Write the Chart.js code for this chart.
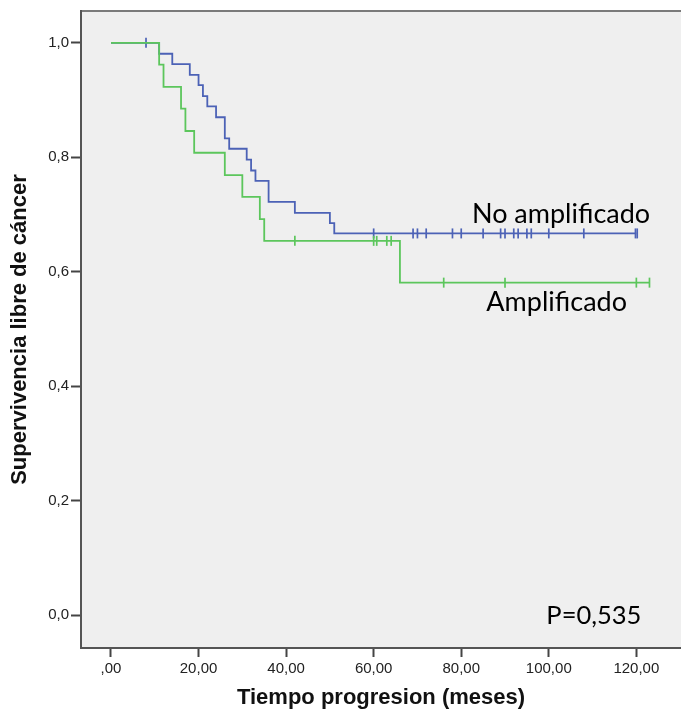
<!DOCTYPE html>
<html>
<head>
<meta charset="utf-8">
<script src="https://cdn.jsdelivr.net/npm/chart.js@4"></script>
<style>
  html, body { margin: 0; padding: 0; background: #fff; }
  #wrap { width: 681px; height: 717px; }
</style>
</head>
<body>
<div id="wrap"><canvas id="chart" width="681" height="717"></canvas></div>
<script>
// Kaplan-Meier steps (time in months, survival)
const blueTimes = [0, 11, 14, 18, 20, 21, 22, 24, 26, 27, 31, 32, 33, 36, 42, 50, 51, 120]
const blueSurv = [1, 0.981, 0.963, 0.944, 0.926, 0.907, 0.889, 0.870, 0.833, 0.815, 0.796, 0.777, 0.759, 0.722, 0.703, 0.685, 0.667, 0.667]
const blueCensored = [8, 60, 69, 70, 72, 78, 80, 85, 89, 90, 92, 93, 95, 96, 100, 108, 119.8, 120.2]

const greenTimes = [0, 11, 12, 16, 17, 19, 26, 30, 34, 35, 66, 123]
const greenSurv = [1, 0.962, 0.923, 0.885, 0.846, 0.808, 0.769, 0.731, 0.692, 0.654, 0.581, 0.581]
const greenCensored = [42, 60, 60.7, 63, 64, 76, 90, 120, 123]

const xTicks = [0, 20, 40, 60, 80, 100, 120]
const xTickLabels = [",00", "20,00", "40,00", "60,00", "80,00", "100,00", "120,00"]
const yTicks = [0, 0.2, 0.4, 0.6, 0.8, 1.0]
const yTickLabels = ["0,0", "0,2", "0,4", "0,6", "0,8", "1,0"]

const notes = [
  { text: "No amplificado", x: 102.8, y: 0.685, size: 27 },
  { text: "Amplificado", x: 101.8, y: 0.531, size: 27 },
  { text: "P=0,535", x: 110.3, y: -0.016, size: 25.5 },
]

const blue = "#4c62b6"
const green = "#5cc65c"

function steps(times, surv) {
  return times.map((t, i) => ({ x: t, y: surv[i] }))
}

// value of the step curve at time t (for placing censor ticks on the line)
function survAt(times, surv, t) {
  let v = surv[0]
  times.forEach((tt, i) => {
    if (tt <= t) v = surv[i]
  })
  return v
}

function censorPoints(cens, times, surv) {
  return cens.map((t) => ({ x: t, y: survAt(times, surv, t) }))
}

const plotBg = {
  id: "plotBg",
  beforeDraw(chart) {
    const { ctx, chartArea: a } = chart
    ctx.save()
    ctx.fillStyle = "#efefef"
    ctx.fillRect(a.left, a.top, a.right - a.left, a.bottom - a.top)
    ctx.strokeStyle = "#7a7a7a"
    ctx.lineWidth = 2
    ctx.beginPath()
    ctx.moveTo(a.left, a.top)
    ctx.lineTo(a.right, a.top)
    ctx.stroke()
    ctx.restore()
  },
}

const noteText = {
  id: "noteText",
  afterDatasetsDraw(chart) {
    const { ctx, scales } = chart
    ctx.save()
    ctx.fillStyle = "#000"
    ctx.textAlign = "center"
    ctx.textBaseline = "alphabetic"
    notes.forEach((n) => {
      ctx.font = n.size + "px Lato"
      ctx.fillText(n.text, scales.x.getPixelForValue(n.x), scales.y.getPixelForValue(n.y))
    })
    ctx.restore()
  },
}

const censorStyle = {
  type: "scatter",
  showLine: false,
  pointStyle: "line",
  rotation: 90,
  pointRadius: 5,
  pointHoverRadius: 5,
  pointBorderWidth: 1.7,
}

const config = {
  type: "line",
  data: {
    datasets: [
      Object.assign({}, censorStyle, {
        label: "Amplificado censurado",
        data: censorPoints(greenCensored, greenTimes, greenSurv),
        borderColor: green,
        backgroundColor: green,
      }),
      {
        label: "Amplificado",
        data: steps(greenTimes, greenSurv),
        stepped: "before",
        borderColor: green,
        borderWidth: 1.8,
        pointRadius: 0,
        fill: false,
      },
      Object.assign({}, censorStyle, {
        label: "No amplificado censurado",
        data: censorPoints(blueCensored, blueTimes, blueSurv),
        borderColor: blue,
        backgroundColor: blue,
      }),
      {
        label: "No amplificado",
        data: steps(blueTimes, blueSurv),
        stepped: "before",
        borderColor: blue,
        borderWidth: 1.8,
        pointRadius: 0,
        fill: false,
      },
    ],
  },
  options: {
    responsive: false,
    animation: false,
    layout: { autoPadding: false, padding: { top: 8, right: 0, left: 0, bottom: 0 } },
    plugins: {
      legend: { display: false },
      tooltip: { enabled: false },
    },
    scales: {
      x: {
        type: "linear",
        min: -6.85,
        max: 130.2,
        afterBuildTicks: (s) => {
          s.ticks = xTicks.map((v) => ({ value: v }))
        },
        afterFit: (s) => {
          s.height = 69
        },
        grid: { drawOnChartArea: false, drawTicks: true, tickLength: 9, tickColor: "#444", tickWidth: 2 },
        border: { display: true, color: "#555", width: 2 },
        ticks: {
          padding: 3,
          color: "#222",
          font: { family: "Liberation Sans", size: 15 },
          maxRotation: 0,
          callback: (v, i) => xTickLabels[i],
        },
        title: {
          display: true,
          text: "Tiempo progresion (meses)",
          color: "#111",
          font: { family: "Liberation Sans", size: 22, weight: "bold" },
          padding: { top: 0, bottom: 6 },
        },
      },
      y: {
        type: "linear",
        min: -0.0575,
        max: 1.0557,
        afterBuildTicks: (s) => {
          s.ticks = yTicks.map((v) => ({ value: v }))
        },
        afterFit: (s) => {
          s.width = 81
        },
        grid: { drawOnChartArea: false, drawTicks: true, tickLength: 10, tickColor: "#444", tickWidth: 2 },
        border: { display: true, color: "#555", width: 2 },
        ticks: {
          padding: 2,
          color: "#222",
          font: { family: "Liberation Sans", size: 15 },
          callback: (v, i) => yTickLabels[i],
        },
        title: {
          display: true,
          text: "Supervivencia libre de cáncer",
          color: "#111",
          font: { family: "Liberation Sans", size: 22, weight: "bold" },
          padding: { top: 7, bottom: 0 },
        },
      },
    },
  },
  plugins: [plotBg, noteText],
}

const chart = new Chart(document.getElementById("chart"), config)
</script>
</body>
</html>
